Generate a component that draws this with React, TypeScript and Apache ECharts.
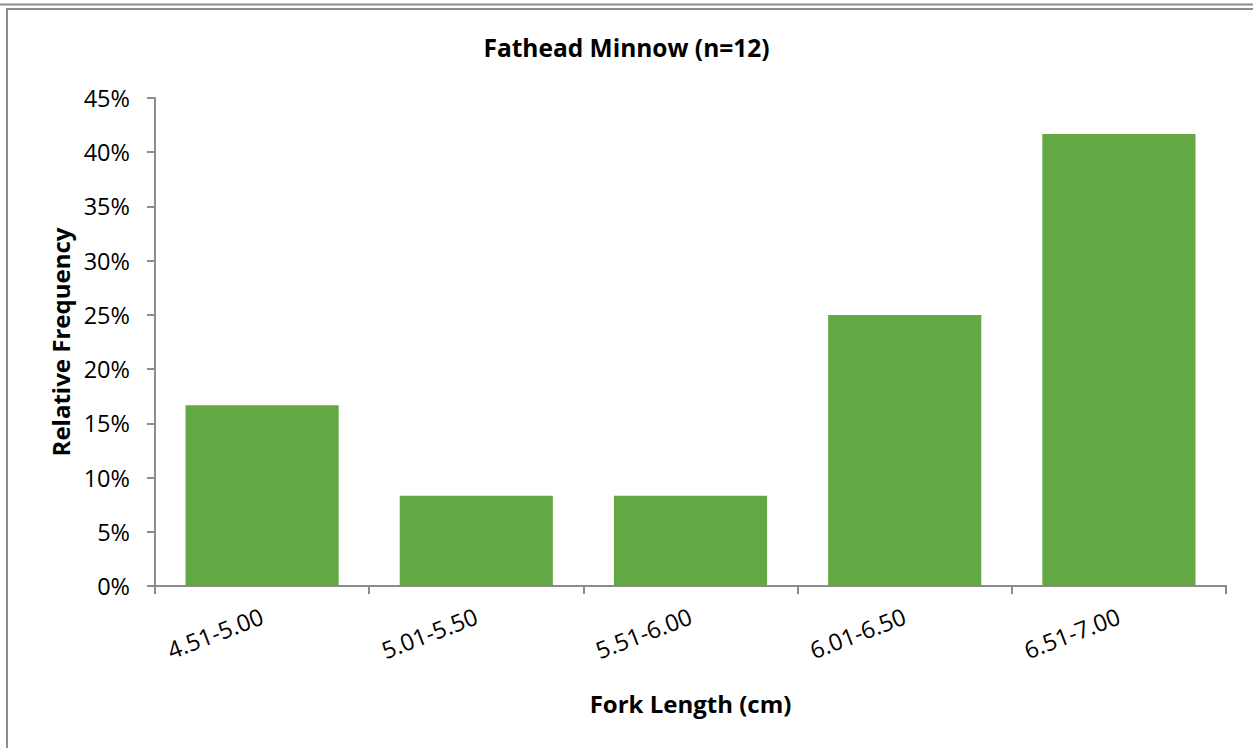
import React, { useEffect, useRef } from "react";
import * as echarts from "echarts";

const categories = ["4.51-5.00", "5.01-5.50", "5.51-6.00", "6.01-6.50", "6.51-7.00"];
const relativeFrequency = [16.67, 8.33, 8.33, 25.0, 41.67];
const titleText = "Fathead Minnow (n=12)";
const xAxisName = "Fork Length (cm)";
const yAxisName = "Relative Frequency";

const FONT = "'Open Sans', 'Noto Sans', sans-serif";
const AXIS_COLOR = "#8c8c8c";

export default function App() {
  const ref = useRef<HTMLDivElement>(null);
  useEffect(() => {
    if (!ref.current) return;
    const chart = echarts.init(ref.current, undefined, { renderer: "svg" });
    chart.setOption({
      animation: false,
      backgroundColor: "#ffffff",
      textStyle: { fontFamily: FONT },
      title: {
        text: titleText,
        left: "center",
        top: 30,
        textStyle: { fontFamily: FONT, fontSize: 24.5, fontWeight: "bold", color: "#000" },
      },
      graphic: [
        { type: "line", shape: { x1: 0, y1: 4.5, x2: 1253, y2: 4.5 }, style: { stroke: "#8c8c8c", lineWidth: 2 } },
        { type: "line", shape: { x1: 6.5, y1: 9, x2: 1253, y2: 9 }, style: { stroke: "#8c8c8c", lineWidth: 2 } },
        { type: "line", shape: { x1: 7, y1: 8, x2: 7, y2: 748 }, style: { stroke: "#8c8c8c", lineWidth: 2 } },
      ],
      grid: { left: 155, right: 27, top: 98, bottom: 162, containLabel: false },
      xAxis: {
        type: "category",
        data: categories,
        name: xAxisName,
        nameLocation: "middle",
        nameGap: 105,
        nameTextStyle: { fontFamily: FONT, fontSize: 24, fontWeight: "bold", color: "#000" },
        axisLine: { lineStyle: { color: AXIS_COLOR, width: 2 } },
        axisTick: { show: true, inside: false, length: 8, lineStyle: { color: AXIS_COLOR, width: 2 } },
        axisLabel: { rotate: 21, fontFamily: FONT, fontSize: 23.5, color: "#000", margin: 29 },
        splitLine: { show: false },
      },
      yAxis: {
        type: "value",
        min: 0,
        max: 45,
        interval: 5,
        name: yAxisName,
        nameLocation: "middle",
        nameGap: 83,
        nameTextStyle: { fontFamily: FONT, fontSize: 24, fontWeight: "bold", color: "#000" },
        axisLine: { show: true, lineStyle: { color: AXIS_COLOR, width: 2 } },
        axisTick: { show: true, inside: false, length: 8, lineStyle: { color: AXIS_COLOR, width: 2 } },
        axisLabel: { formatter: "{value}%", fontFamily: FONT, fontSize: 23.5, color: "#000", margin: 25 },
        splitLine: { show: false },
      },
      series: [
        {
          type: "bar",
          data: relativeFrequency,
          barCategoryGap: "28.5%",
          itemStyle: { color: "#63a844" },
        },
      ],
    });
    return () => chart.dispose();
  }, []);
  return <div ref={ref} style={{ width: 1253, height: 748, position: "absolute", left: 0, top: 0 }} />;
}
